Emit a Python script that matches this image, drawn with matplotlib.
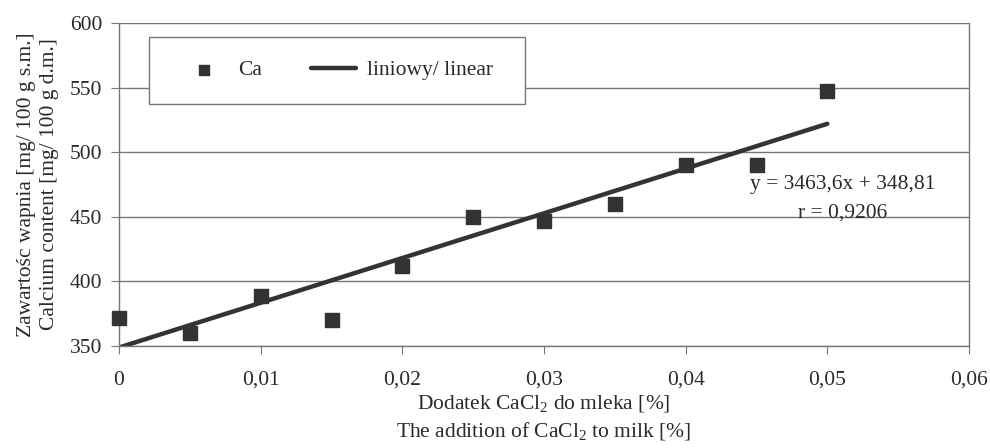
import numpy as np
import matplotlib.pyplot as plt
from matplotlib.patches import Rectangle

plt.rcParams['font.family'] = ['Liberation Serif', 'DejaVu Serif']
plt.rcParams['mathtext.fontset'] = 'custom'
plt.rcParams['mathtext.rm'] = 'Liberation Serif'

# data
dose = [0, 0.005, 0.01, 0.015, 0.02, 0.025, 0.03, 0.035, 0.04, 0.045, 0.05]
ca = [372, 360, 389, 370, 412, 450, 447, 460, 490, 490, 547]
slope = 3463.6
intercept = 348.81
x_ticks = [0, 0.01, 0.02, 0.03, 0.04, 0.05, 0.06]
x_tick_labels = ['0', '0,01', '0,02', '0,03', '0,04', '0,05', '0,06']
y_ticks = [350, 400, 450, 500, 550, 600]

dark = '#333333'
grey = '#777777'
txt = '#2a2a2a'
fs = 15.5

fig = plt.figure(figsize=(9.9, 4.48), dpi=100)
ax = fig.add_axes([0.1202, 0.2277, 0.8586, 0.721])

ax.scatter(dose, ca, marker='s', s=110, color=dark, zorder=3, label='Ca',
           clip_on=False)
x_fit = np.array([dose[0], dose[-1]])
ax.plot(x_fit, slope * x_fit + intercept, color=dark, lw=3.2, zorder=2,
        label='liniowy/ linear', solid_capstyle='round')

ax.set_xlim(0, 0.06)
ax.set_ylim(350, 600)
ax.set_xticks(x_ticks)
ax.set_xticklabels(x_tick_labels)
ax.set_yticks(y_ticks)
ax.yaxis.grid(True, color=grey, lw=1)
ax.set_axisbelow(True)
for s in ax.spines.values():
    s.set_color(grey)
    s.set_linewidth(1)
ax.spines['top'].set_visible(False)
ax.tick_params(labelsize=fs, colors=grey, labelcolor=txt, length=6,
               direction='out', pad=6)
ax.tick_params(axis='x', pad=12)

ax.set_xlabel('Dodatek CaCl$_2$ do mleka [%]\nThe addition of CaCl$_2$ to milk [%]',
              fontsize=fs, color=txt, labelpad=3, linespacing=1.3)
ax.set_ylabel('Zawartośc wapnia [mg/ 100 g s.m.]\nCalcium content [mg/ 100 g d.m.]',
              fontsize=fs, color=txt, labelpad=8, linespacing=1.3)

ax.text(0.0511, 475, 'y = 3463,6x + 348,81', fontsize=fs, color=txt,
        ha='center', va='center')
ax.text(0.0511, 453, 'r = 0,9206', fontsize=fs, color=txt,
        ha='center', va='center')

# legend box
ax.add_patch(Rectangle((0.035, 0.749), 0.443, 0.208, transform=ax.transAxes,
                       facecolor='white', edgecolor=grey, lw=1, zorder=4))
leg = ax.legend(loc='center', bbox_to_anchor=(0.257, 0.853), ncol=2,
                frameon=False, fontsize=fs, handlelength=2.1,
                handletextpad=0.5, columnspacing=2.3, scatterpoints=1,
                markerscale=0.75)
leg.set_zorder(5)
for t in leg.get_texts():
    t.set_color(txt)

fig.savefig('out.png', dpi=100)
